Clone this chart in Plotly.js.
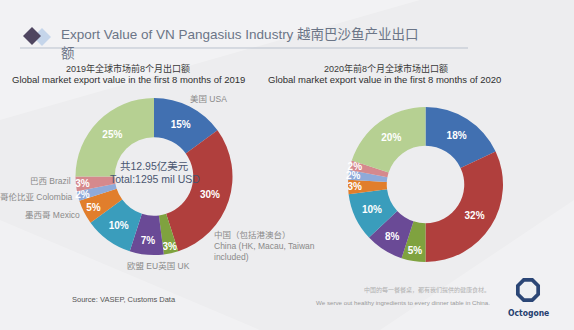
<!DOCTYPE html>
<html><head><meta charset="utf-8">
<script src="https://cdn.plot.ly/plotly-3.0.1.min.js"></script>
<style>html,body{margin:0;padding:0;background:#f0f0f1;}#chart{width:574px;height:330px;}</style>
</head><body><div id="chart"></div>
<script>
// ---- data ----
const categories = ["USA", "China", "UK", "EU", "Other Asia", "Mexico", "Colombia", "Brazil", "Others"];
const values2019 = [15, 30, 3, 7, 10, 5, 2, 3, 25];
const values2020 = [18, 32, 5, 8, 10, 3, 2, 2, 20];
const sliceColors = ["#4170b1", "#b03f3d", "#7fa23f", "#6a4a96", "#3a9dbc", "#e17e2c", "#8faad9", "#d5898d", "#b6d092"];

const W = 574, H = 330;
const px = x => x / W, py = y => 1 - y / H;
const cn = '"Liberation Sans", Arial, "Noto Sans CJK SC", sans-serif';

function pie(values, x0, x1, y0, y1) {
  return {
    type: "pie", values: values, labels: categories, sort: false, direction: "clockwise", rotation: 0,
    hole: 0.5, domain: {x: [px(x0), px(x1)], y: [py(y1), py(y0)]},
    marker: {colors: sliceColors, line: {width: 0}},
    texttemplate: "%{value}%", textposition: "inside", insidetextorientation: "horizontal",
    textfont: {color: "#ffffff", size: 10, family: cn, weight: "bold"},
    showlegend: false, hoverinfo: "label+value"
  };
}

const data = [pie(values2019, 75, 233, 98, 255), pie(values2020, 348, 503, 106, 263)];

function ann(text, x, y, size, color, xanchor, extra) {
  return Object.assign({text: text, x: px(x), y: py(y), xref: "paper", yref: "paper", showarrow: false,
    xanchor: xanchor || "center", yanchor: "middle", font: {size: size, color: color, family: cn}}, extra || {});
}

const annotations = [
  ann("Export Value of VN Pangasius Industry 越南巴沙鱼产业出口", 59, 34, 13.5, "#6b7587", "left"),
  ann("额", 59, 53, 13.5, "#6b7587", "left"),
  ann("2019年全球市场前8个月出口额", 128, 68, 9, "#3a3a3a"),
  ann("Global market export value in the first 8 months of 2019", 128, 79, 9.5, "#2f2f2f"),
  ann("2020年前8个月全球市场出口额", 386, 68, 9, "#3a3a3a"),
  ann("Global market export value in the first 8 months of 2020", 384, 79, 9.5, "#2f2f2f"),
  ann("共12.95亿美元", 154, 166, 10.5, "#4a5670"),
  ann("Total:1295 mil USD", 155, 179, 10.5, "#4a5670"),
  ann("美国 USA", 208, 99, 8.5, "#8a8a8a"),
  ann("中国（包括港澳台）<br>China (HK, Macau, Taiwan<br>included)", 212, 246, 8.5, "#8a8a8a", "left", {align: "left"}),
  ann("欧盟 EU英国 UK", 158, 266, 8.5, "#8a8a8a"),
  ann("巴西 Brazil", 73, 181, 8.5, "#8a8a8a", "right"),
  ann("哥伦比亚 Colombia", 75, 197, 8.5, "#8a8a8a", "right"),
  ann("墨西哥 Mexico", 82, 215, 8.5, "#8a8a8a", "right"),
  ann("Source: VASEP, Customs Data", 70, 299, 7.5, "#555555", "left"),
  ann("中国的每一餐餐桌，都有我们提供的健康食材。", 492, 290, 6, "#b0b0b0", "right"),
  ann("We serve out healthy ingredients to every dinner table in China.", 492, 302, 6.2, "#9a9a9a", "right"),
  ann("<b>Octogone</b>", 528, 313, 8.5, "#24406f", "center", {font: {size: 8.5, color: "#24406f", family: '"DejaVu Sans Condensed", "Liberation Sans Narrow", sans-serif'}})
];

function octPathPaper(cx, cy, r) {
  let d = "";
  for (let i = 0; i < 8; i++) {
    const a = Math.PI / 8 + i * Math.PI / 4;
    d += (i ? "L" : "M") + px(cx + r * Math.cos(a)) + "," + py(cy + r * Math.sin(a));
  }
  return d + "Z";
}

const shapes = [
  // soft background facets
  {type: "path", xref: "paper", yref: "paper", path: `M0,0 L${px(260)},0 L0,${py(220)} Z`, fillcolor: "rgba(255,255,255,0.25)", line: {width: 0}, layer: "below"},
  {type: "path", xref: "paper", yref: "paper", path: `M0,1 L${px(420)},1 L0,${py(120)} Z`, fillcolor: "rgba(255,255,255,0.3)", line: {width: 0}, layer: "below"},
  {type: "path", xref: "paper", yref: "paper", path: `M${px(380)},0 L1,${py(200)} L1,0 Z`, fillcolor: "rgba(255,255,255,0.25)", line: {width: 0}, layer: "below"},
  // header line
  {type: "line", xref: "paper", yref: "paper", x0: px(20), x1: px(468), y0: py(48), y1: py(48), line: {color: "#b9c1cd", width: 1}},
  // icon diamonds
  {type: "path", xref: "paper", yref: "paper", path: `M${px(42)},${py(28)} L${px(51)},${py(37)} L${px(42)},${py(46)} L${px(33)},${py(37)} Z`, fillcolor: "#c5d5ea", line: {width: 0}},
  {type: "path", xref: "paper", yref: "paper", path: `M${px(32)},${py(27)} L${px(41)},${py(36)} L${px(32)},${py(45)} L${px(23)},${py(36)} Z`, fillcolor: "#4f4660", line: {width: 0}},
  // logo octagon ring
  {type: "path", xref: "paper", yref: "paper", path: octPathPaper(528, 290, 13), fillcolor: "#2b4676", line: {width: 0}},
  {type: "path", xref: "paper", yref: "paper", path: octPathPaper(528, 290, 9), fillcolor: "#eef0f3", line: {width: 0}}
];

const layout = {
  width: W, height: H, margin: {l: 0, r: 0, t: 0, b: 0},
  paper_bgcolor: "#ededef", plot_bgcolor: "rgba(0,0,0,0)",
  annotations: annotations, shapes: shapes,
  uniformtext: {mode: "show", minsize: 9},
  font: {family: cn}
};

Plotly.newPlot("chart", data, layout, {displayModeBar: false, staticPlot: true});
</script></body></html>
